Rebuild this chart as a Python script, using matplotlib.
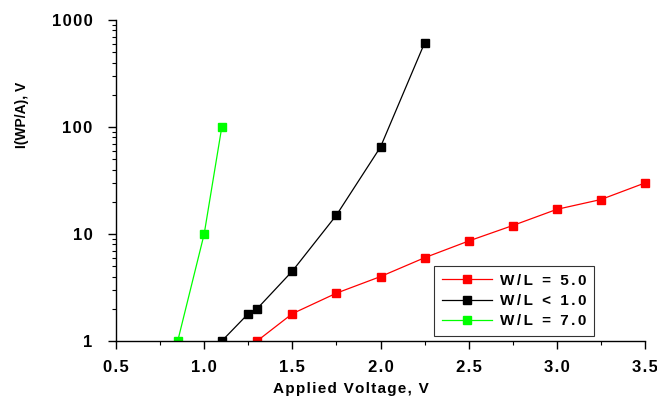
import matplotlib
matplotlib.use("Agg")
import matplotlib.pyplot as plt
from matplotlib.patches import Rectangle
from matplotlib.ticker import FixedLocator, MultipleLocator, LogLocator, NullFormatter, FuncFormatter

plt.rcParams['font.family'] = ['Liberation Sans', 'DejaVu Sans']
plt.rcParams['font.weight'] = 'bold'

red_x = [1.3, 1.5, 1.75, 2.0, 2.25, 2.5, 2.75, 3.0, 3.25, 3.5]
red_y = [1.0, 1.8, 2.8, 4.0, 6.0, 8.6, 12, 17, 21, 30]
black_x = [1.1, 1.25, 1.3, 1.5, 1.75, 2.0, 2.25]
black_y = [1.0, 1.8, 2.0, 4.5, 15, 65, 610]
green_x = [0.85, 1.0, 1.1]
green_y = [1.0, 10, 100]
labels = ["W/L = 5.0", "W/L < 1.0", "W/L = 7.0"]
xlabel = "Applied Voltage, V"
ylabel = "I(WP/A), V"

HS = "\u200a"
def spaced(s, n=1):
    return (HS * n).join(s)

fig = plt.figure(figsize=(6.57, 4.01), dpi=100)
ax = fig.add_axes([116/657, 60/401, 529/657, 321/401])

clip = Rectangle((-0.05, 0), 1.1, 1.1, transform=ax.transAxes, visible=False)
ax.add_patch(clip)

ms = 5.5
lines = []
lines += ax.plot(red_x, red_y, color='#ff0000', lw=0.9, marker='s', ms=ms, mec='#ff0000', label=spaced(labels[0], 2))
lines += ax.plot(black_x, black_y, color='black', lw=0.9, marker='s', ms=ms, label=spaced(labels[1], 2))
lines += ax.plot(green_x, green_y, color='#00ff00', lw=0.9, marker='s', ms=ms, mec='#00ff00', label=spaced(labels[2], 2))
for ln in lines:
    ln.set_clip_path(clip)

ax.set_yscale('log')
ax.set_xlim(0.5, 3.5)
ax.set_ylim(1, 1000)
ax.xaxis.set_major_locator(MultipleLocator(0.5))
ax.xaxis.set_minor_locator(MultipleLocator(0.25))
ax.xaxis.set_major_formatter(FuncFormatter(lambda v, p: spaced('%.1f' % v)))
ax.yaxis.set_major_locator(FixedLocator([1, 10, 100, 1000]))
ax.yaxis.set_major_formatter(FuncFormatter(lambda v, p: spaced('%g' % v)))
ax.yaxis.set_minor_locator(LogLocator(base=10, subs=range(2, 10)))
ax.yaxis.set_minor_formatter(NullFormatter())

for s in ['top', 'right']:
    ax.spines[s].set_visible(False)
for s in ['left', 'bottom']:
    ax.spines[s].set_linewidth(1.0)
    ax.spines[s].set_zorder(3)

ax.tick_params(which='major', direction='out', length=6, width=1, labelsize=12)
ax.tick_params(axis='y', which='major', pad=11)
ax.tick_params(axis='x', which='major', pad=8)
ax.tick_params(which='minor', direction='out', length=3, width=0.8)
for t in ax.get_xticklabels() + ax.get_yticklabels():
    t.set_fontweight('bold')

ax.set_xlabel(spaced(xlabel), fontsize=11, fontweight='bold')
ax.xaxis.set_label_coords((351 - 116) / 529, (341 - 382) / 321)
ax.set_ylabel(ylabel, fontsize=10, fontweight='bold')
ax.yaxis.set_label_coords((29 - 116) / 529, (341 - 115) / 321)

leg = ax.legend(loc='lower right', bbox_to_anchor=(0.9036, 0.0156), frameon=True, fancybox=False,
                edgecolor='black', fontsize=11, handlelength=3.3, borderpad=0.5,
                labelspacing=0.42, handletextpad=0.5, markerscale=1.0, borderaxespad=0)
leg.get_frame().set_linewidth(0.8)
for t in leg.get_texts():
    t.set_fontweight('bold')

fig.savefig('out.png', dpi=100)
